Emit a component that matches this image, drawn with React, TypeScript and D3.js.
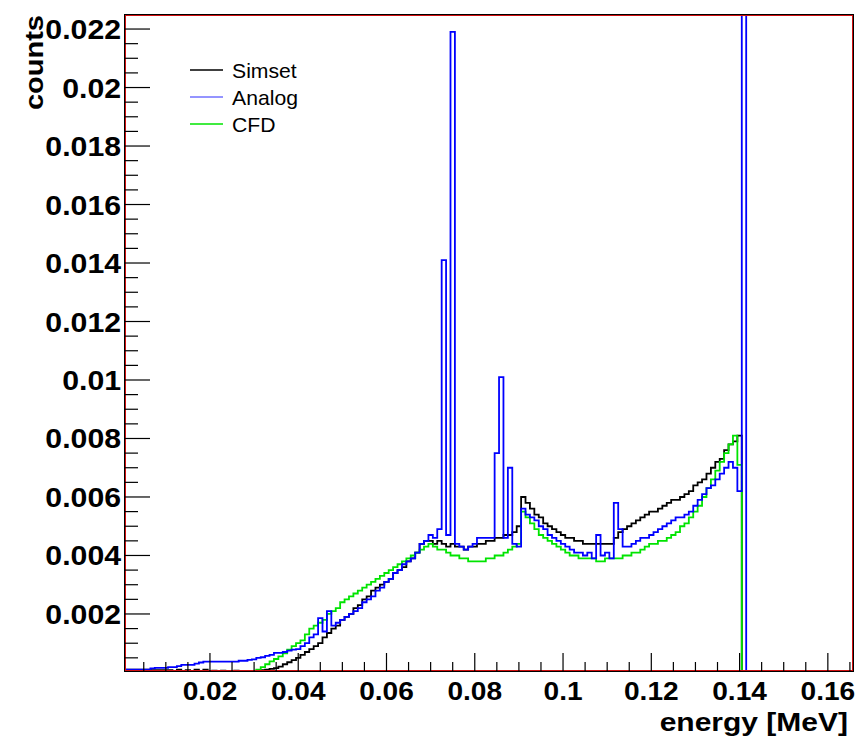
import React from "react";
import * as d3 from "d3";

// Histogram bins: bin i is centred on i * BIN_WIDTH (energy in MeV)
const BIN_WIDTH = 0.001;

const simset = [
  0.0001, 0.0001, 0.0001, 0.0001, 0.0001, 0.0001, 0.0001, 0.00008, 0.00008, 0.00008,
  0.00008, 0.00008, 0.00005, 0.0001, 0.00004, 0.00008, 0.00004, 0.0001, 0.00003, 0.0001,
  0.00004, 0.00006, 0.00003, 0.00006, 0.00004, 0.00003, 0.00006, 0.00004, 0.00003, 0.00005,
  0.00005, 0.00006, 0.00008, 0.0001, 0.00012, 0.00015, 0.0002, 0.00028, 0.00035, 0.00042,
  0.0005, 0.0006, 0.0007, 0.0008, 0.0009, 0.001, 0.0012, 0.00135, 0.0015, 0.0016,
  0.0018, 0.0019, 0.002, 0.0022, 0.0023, 0.0025, 0.0026, 0.0028, 0.0029, 0.003,
  0.0031, 0.0032, 0.0034, 0.0035, 0.0036, 0.0038, 0.0039, 0.0041, 0.0044, 0.0045,
  0.0045, 0.0044, 0.0045, 0.0044, 0.0043, 0.0044, 0.0043, 0.0043, 0.0042, 0.0043,
  0.0043, 0.0044, 0.0044, 0.0045, 0.0045, 0.0046, 0.0046, 0.0047, 0.0047, 0.0048,
  0.005, 0.006, 0.0058, 0.0056, 0.0054, 0.0053, 0.0051, 0.005, 0.0049, 0.0048,
  0.0047, 0.0046, 0.0046, 0.0045, 0.0045, 0.0044, 0.0044, 0.0044, 0.0044, 0.0044,
  0.0044, 0.0044, 0.0046, 0.0048, 0.0049, 0.005, 0.0051, 0.0052, 0.0053, 0.0054,
  0.0055, 0.0055, 0.0056, 0.0057, 0.0058, 0.0059, 0.0059, 0.006, 0.0061, 0.0062,
  0.0064, 0.0065, 0.0066, 0.0068, 0.007, 0.0072, 0.0073, 0.0076, 0.0078, 0.0079,
  0.0081, 0, 0, 0, 0, 0, 0, 0, 0, 0,
  0, 0, 0, 0, 0, 0, 0, 0, 0, 0,
  0, 0, 0, 0, 0, 0,
];

const analog = [
  0.0001, 0.0001, 0.0001, 0.0001, 0.0001, 0.0001, 0.0001, 0.00014, 0.00016, 0.00016,
  0.00016, 0.00018, 0.00018, 0.00022, 0.00026, 0.00026, 0.00026, 0.0003, 0.00034, 0.00037,
  0.00037, 0.00037, 0.00037, 0.00037, 0.00037, 0.00037, 0.00037, 0.0004, 0.0004, 0.00043,
  0.00045, 0.0005, 0.00052, 0.00057, 0.0006, 0.00067, 0.00067, 0.0007, 0.00075, 0.00078,
  0.0008, 0.0009, 0.001, 0.0012, 0.0013, 0.00186, 0.0014, 0.0021, 0.0016, 0.0017,
  0.0018, 0.0019, 0.002, 0.0021, 0.0022, 0.0024, 0.0025, 0.0026, 0.0028, 0.0029,
  0.0031, 0.0032, 0.0034, 0.0035, 0.0037, 0.0038, 0.0039, 0.0041, 0.0044, 0.0045,
  0.0047, 0.0046, 0.0049, 0.0141, 0.0047, 0.0219, 0.0044, 0.0043, 0.0042, 0.0043,
  0.0044, 0.0046, 0.0046, 0.0046, 0.0046, 0.0075, 0.0101, 0.0046, 0.007, 0.0044,
  0.0043, 0.0056, 0.0054, 0.0053, 0.0052, 0.005, 0.0049, 0.0047, 0.0046, 0.0045,
  0.0044, 0.0043, 0.0042, 0.0041, 0.0041, 0.004, 0.0041, 0.0039, 0.0047, 0.004,
  0.0041, 0.0039, 0.0058, 0.0049, 0.0043, 0.0043, 0.0044, 0.0045, 0.0046, 0.0046,
  0.0047, 0.0048, 0.0049, 0.005, 0.0051, 0.0052, 0.0053, 0.0053, 0.0054, 0.0055,
  0.0057, 0.0059, 0.0061, 0.0063, 0.0064, 0.0066, 0.0068, 0.007, 0.0072, 0.007,
  0.0062, 0.03, 0, 0, 0, 0, 0, 0, 0, 0,
  0, 0, 0, 0, 0, 0, 0, 0, 0, 0,
  0, 0, 0, 0, 0, 0,
];

const cfd = [
  0, 0, 0, 0, 0, 0, 0, 0, 0, 0,
  0, 0, 0, 0, 0, 0, 0, 0, 0, 0,
  0, 0, 0, 0, 0, 0, 0, 0, 0, 0,
  0.00005, 0.0001, 0.00018, 0.00028, 0.00038, 0.00046, 0.00055, 0.00065, 0.00078, 0.0009,
  0.001, 0.0011, 0.0013, 0.0015, 0.0016, 0.0017, 0.0018, 0.002, 0.0021, 0.0022,
  0.0024, 0.0025, 0.0026, 0.0027, 0.0028, 0.0029, 0.003, 0.0031, 0.0032, 0.0033,
  0.0034, 0.0035, 0.0036, 0.0037, 0.0038, 0.0039, 0.004, 0.0041, 0.0042, 0.0043,
  0.0044, 0.0043, 0.0042, 0.0042, 0.0041, 0.004, 0.004, 0.0039, 0.0039, 0.0038,
  0.0038, 0.0038, 0.0038, 0.0039, 0.0039, 0.004, 0.004, 0.0041, 0.0042, 0.0043,
  0.0044, 0.0055, 0.0053, 0.0051, 0.0049, 0.0047, 0.0046, 0.0045, 0.0044, 0.0043,
  0.0042, 0.0041, 0.004, 0.004, 0.0039, 0.0039, 0.0039, 0.0039, 0.0038, 0.0038,
  0.0039, 0.0039, 0.0039, 0.0039, 0.004, 0.004, 0.0041, 0.0041, 0.0042, 0.0043,
  0.0044, 0.0044, 0.0045, 0.0045, 0.0046, 0.0047, 0.0048, 0.005, 0.0051, 0.0053,
  0.0055, 0.0057, 0.006, 0.0063, 0.0066, 0.0069, 0.0072, 0.0075, 0.0078, 0.0081,
  0.0071, 0, 0, 0, 0, 0, 0, 0, 0, 0,
  0, 0, 0, 0, 0, 0, 0, 0, 0, 0,
  0, 0, 0, 0, 0, 0,
];

const seriesNames = ["Simset", "Analog", "CFD"];
const xMajorTicks = [0.02, 0.04, 0.06, 0.08, 0.1, 0.12, 0.14, 0.16];
const yMajorTicks = [0.002, 0.004, 0.006, 0.008, 0.01, 0.012, 0.014, 0.016, 0.018, 0.02, 0.022];
const xMinorStep = 0.005;
const yMinorStep = 0.0005;
const xTitle = "energy [MeV]";
const yTitle = "counts";

const FONT = "'Liberation Sans', Arial, Helvetica, sans-serif";

export default function App() {
  const W = 866;
  const H = 739;
  const left = 125;
  const right = 853;
  const top = 15;
  const bottom = 671;

  const x = d3.scaleLinear().domain([0.00075, 0.1657]).range([left, right]);
  const y = d3.scaleLinear().domain([0.00005, 0.02248]).range([bottom, top]);

  const stepPath = (vals: number[]) => {
    const pts: [number, number][] = vals.map((v, i) => [i * BIN_WIDTH - BIN_WIDTH / 2, v]);
    pts.push([(vals.length - 1) * BIN_WIDTH + BIN_WIDTH / 2, vals[vals.length - 1]]);
    return d3
      .line<[number, number]>()
      .x((d) => x(d[0]))
      .y((d) => y(d[1]))
      .curve(d3.curveStepAfter)(pts) as string;
  };

  const series = [
    { name: seriesNames[0], values: simset, color: "#000000", width: 1.8 },
    { name: seriesNames[2], values: cfd, color: "#00e400", width: 1.8 },
    { name: seriesNames[1], values: analog, color: "#0000ff", width: 1.8 },
  ];

  const xd = x.domain();
  const yd = y.domain();
  const xAll = d3.range(1, 40).map((i) => i * xMinorStep).filter((v) => v > xd[0] && v < xd[1]);
  const yAll = d3.range(1, 50).map((i) => i * yMinorStep).filter((v) => v > yd[0] && v < yd[1] - 0.0001);
  const isMajor = (v: number, list: number[]) => list.some((m) => Math.abs(m - v) < 1e-9);

  const fmt = (v: number) => String(+v.toFixed(4));

  const legend = [
    { name: seriesNames[0], color: "#000000", width: 1.6 },
    { name: seriesNames[1], color: "#2a2aff", width: 1 },
    { name: seriesNames[2], color: "#00e400", width: 1.6 },
  ];

  return (
    <svg
      width={W}
      height={H}
      style={{ position: "absolute", left: 0, top: 0, background: "#fff" }}
      xmlns="http://www.w3.org/2000/svg"
    >
      <defs>
        <clipPath id="plotClip">
          <rect x={left} y={top} width={right - left} height={bottom - top} />
        </clipPath>
      </defs>
      <rect x={0} y={0} width={W} height={H} fill="#fff" />

      {/* histograms */}
      <g clipPath="url(#plotClip)" fill="none" strokeLinejoin="miter">
        {series.map((s) => (
          <path key={s.name} d={stepPath(s.values)} stroke={s.color} strokeWidth={s.width} />
        ))}
      </g>

      {/* frame */}
      <rect x={left - 0.5} y={top - 0.5} width={right - left + 1} height={bottom - top + 1} fill="none" stroke="#000" strokeWidth={1} />
      <rect x={left + 0.5} y={top + 0.5} width={right - left - 1} height={bottom - top - 1} fill="none" stroke="#d01010" strokeWidth={1} />
      <line x1={left} x2={right} y1={bottom + 0.5} y2={bottom + 0.5} stroke="#000" strokeWidth={1.2} />
      <line x1={left - 0.5} x2={left - 0.5} y1={top} y2={bottom} stroke="#000" strokeWidth={1} />

      {/* x ticks */}
      <g stroke="#000" strokeWidth={1.2}>
        {xAll.map((v) => (
          <line key={"xt" + v} x1={x(v)} x2={x(v)} y1={bottom} y2={bottom - (isMajor(v, xMajorTicks) ? 18 : 9)} />
        ))}
        {yAll.map((v) => (
          <line key={"yt" + v} x1={left} x2={left + (isMajor(v, yMajorTicks) ? 25 : 13)} y1={y(v)} y2={y(v)} />
        ))}
      </g>

      {/* tick labels */}
      <g fontFamily={FONT} fontWeight="bold" fill="#000">
        {xMajorTicks.map((v) => (
          <text key={"xl" + v} transform={`translate(${x(v)},700) scale(1.08,1)`} textAnchor="middle" fontSize={26}>
            {fmt(v)}
          </text>
        ))}
        {yMajorTicks.map((v) => (
          <text key={"yl" + v} transform={`translate(121,${y(v) + 10}) scale(1.08,1)`} textAnchor="end" fontSize={28}>
            {fmt(v)}
          </text>
        ))}
        <text transform={`translate(848,731) scale(1.2,1)`} textAnchor="end" fontSize={25}>
          {xTitle}
        </text>
        <text transform={`translate(43,15) rotate(-90) scale(1.16,1)`} textAnchor="end" fontSize={25}>
          {yTitle}
        </text>
      </g>

      {/* legend */}
      <g fontFamily={FONT} fontSize={20} fill="#000">
        {legend.map((l, i) => (
          <g key={l.name}>
            <line x1={190} x2={223} y1={70 + i * 27} y2={70 + i * 27} stroke={l.color} strokeWidth={l.width} />
            <text transform={`translate(232,${78 + i * 27}) scale(1.06,1)`}>{l.name}</text>
          </g>
        ))}
      </g>
    </svg>
  );
}
